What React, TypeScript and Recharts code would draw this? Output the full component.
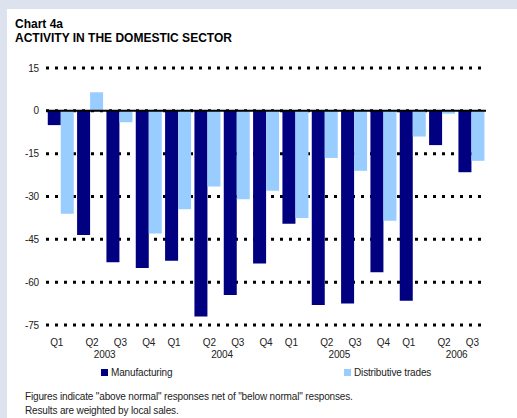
import {
  Bar,
  BarChart,
  CartesianGrid,
  ReferenceLine,
  XAxis,
  YAxis,
} from "recharts";

const quarters = ["Q1", "Q2", "Q3", "Q4", "Q1", "Q2", "Q3", "Q4", "Q1", "Q2", "Q3", "Q4", "Q1", "Q2", "Q3"];
const years = ["2003", "2003", "2003", "2003", "2004", "2004", "2004", "2004", "2005", "2005", "2005", "2005", "2006", "2006", "2006"];
const manufacturing = [-5, -43.5, -53, -55, -52.5, -72, -64.5, -53.5, -39.5, -68, -67.5, -56.5, -66.5, -12, -21.5];
const distributive = [-36, 6.5, -4, -43, -34.5, -26.5, -31, -28, -37.5, -16.5, -21, -38.5, -9, -1, -17.5];
const yTicks = [-75, -60, -45, -30, -15, 0, 15];

const data = quarters.map((q, i) => ({
  key: `${q} ${years[i]}`,
  q,
  year: years[i],
  manufacturing: manufacturing[i],
  distributive: distributive[i],
}));

const FONT = "Arial, 'Liberation Sans', sans-serif";
const NAVY = "#000080";
const LIGHT = "#99ccff";
const LS = -0.15;

const qOffset: Record<string, number> = { Q1: -4, Q2: 2, Q3: 1, Q4: 0 };

function QuarterTick(props: any) {
  const { x, y, index } = props;
  const row = data[index];
  if (!row) return null;
  const band = 440 / data.length;
  return (
    <g>
      <text
        x={x + (qOffset[row.q] ?? 0)}
        y={y + 21}
        textAnchor="middle"
        fontSize={10}
        fontFamily={FONT}
        fill="#222"
        letterSpacing={LS}
      >
        {row.q}
      </text>
      {row.q === "Q2" && (
        <text
          x={x + band / 2}
          y={y + 33}
          textAnchor="middle"
          fontSize={10}
          fontFamily={FONT}
          fill="#222"
          letterSpacing={LS}
        >
          {row.year}
        </text>
      )}
    </g>
  );
}

export default function App() {
  return (
    <div
      style={{
        position: "fixed",
        left: 0,
        top: 0,
        width: 517,
        height: 418,
        background: "#dce3ef",
        overflow: "hidden",
        fontFamily: FONT,
      }}
    >
      <div
        style={{
          position: "absolute",
          left: 7,
          top: 9,
          right: 0,
          bottom: 0,
          background: "#fff",
        }}
      />
      <div
        style={{
          position: "absolute",
          left: 15,
          top: 17,
          fontSize: 12,
          fontWeight: "bold",
          lineHeight: "14px",
          letterSpacing: 0,
          color: "#000",
        }}
      >
        <div>Chart 4a</div>
        <div>ACTIVITY IN THE DOMESTIC SECTOR</div>
      </div>
      <div style={{ position: "absolute", left: 0, top: 0 }}>
        <BarChart
          width={517}
          height={418}
          data={data}
          margin={{ top: 68, right: 31, bottom: 0, left: 0 }}
          barCategoryGap="6%"
          barGap={0}
        >
          <CartesianGrid
            vertical={false}
            stroke="#000"
            strokeWidth={3}
            strokeDasharray="3 6"
          />
          <XAxis
            dataKey="key"
            axisLine={false}
            tickLine={false}
            tickSize={0}
            tickMargin={0}
            height={93}
            interval={0}
            tick={<QuarterTick />}
          />
          <YAxis
            domain={[-75, 15]}
            ticks={yTicks}
            axisLine={false}
            tickLine={false}
            tickSize={0}
            tickMargin={7}
            width={46}
            interval={0}
            tick={{ fontSize: 10, fill: "#222", fontFamily: FONT, letterSpacing: LS }}
          />
          <Bar dataKey="manufacturing" fill={NAVY} isAnimationActive={false} />
          <Bar dataKey="distributive" fill={LIGHT} isAnimationActive={false} />
          <ReferenceLine y={0} stroke="#000" strokeWidth={2} />
        </BarChart>
      </div>
      <div
        style={{
          position: "absolute",
          left: 101,
          top: 367,
          fontSize: 10,
          letterSpacing: LS,
          color: "#222",
          display: "flex",
          alignItems: "center",
        }}
      >
        <span style={{ width: 7, height: 7, background: NAVY, marginRight: 3, display: "inline-block" }} />
        Manufacturing
      </div>
      <div
        style={{
          position: "absolute",
          left: 344,
          top: 367,
          fontSize: 10,
          letterSpacing: LS,
          color: "#222",
          display: "flex",
          alignItems: "center",
        }}
      >
        <span style={{ width: 7, height: 7, background: LIGHT, marginRight: 3, display: "inline-block" }} />
        Distributive trades
      </div>
      <div
        style={{
          position: "absolute",
          left: 25,
          top: 390,
          fontSize: 10,
          lineHeight: "13.5px",
          letterSpacing: LS,
          color: "#222",
        }}
      >
        <div>Figures indicate "above normal" responses net of "below normal" responses.</div>
        <div>Results are weighted by local sales.</div>
      </div>
    </div>
  );
}
